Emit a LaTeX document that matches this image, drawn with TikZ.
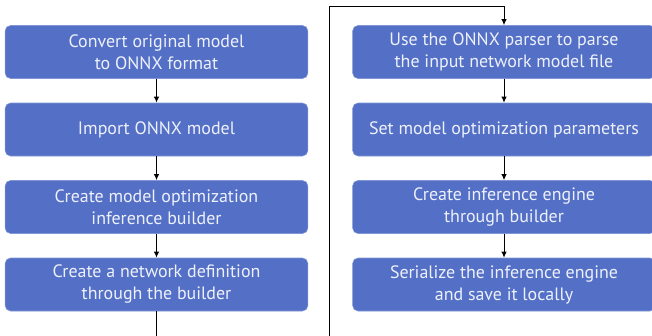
\documentclass[tikz,border=0pt]{standalone}
\usepackage{fontspec}
\setmainfont{PT Sans}
\usetikzlibrary{arrows.meta}
\definecolor{boxblue}{HTML}{5470C6}
\definecolor{boxedge}{HTML}{8096D6}
\definecolor{boxtext}{HTML}{EEF1FB}

\begin{document}
\begin{tikzpicture}[x=0.75pt,y=-0.75pt,
    stepbox/.style={draw=boxedge, line width=0.4pt, fill=boxblue, rounded corners=4pt,
      minimum width=227pt, minimum height=39.75pt, inner sep=0pt,
      text=boxtext, align=center, font=\fontsize{13.45}{16.5}\selectfont},
    flow/.style={line width=0.75pt, -{Latex[length=4.5pt,width=4pt]}}]
    \useasboundingbox (0,0) rectangle (652,335);
    \clip (0,0) rectangle (652,335);

    % Left column
    \node[stepbox] (convert) at (156.5,52) {Convert original model\\to ONNX format};
    \node[stepbox] (import) at (156.5,129.5) {Import ONNX model};
    \node[stepbox] (builder) at (156.5,207) {Create model optimization\\inference builder};
    \node[stepbox] (netdef) at (156.5,284.5) {Create a network definition\\through the builder};

    % Right column
    \node[stepbox] (parse) at (504,52) {Use the ONNX parser to parse\\the input network model file};
    \node[stepbox] (params) at (504,129.5) {Set model optimization parameters};
    \node[stepbox] (engine) at (504,207) {Create inference engine\\through builder};
    \node[stepbox] (serial) at (504,284.5) {Serialize the inference engine\\and save it locally};

    % Arrows
    \draw[flow] (convert) -- (import);
    \draw[flow] (import) -- (builder);
    \draw[flow] (builder) -- (netdef);
    \draw[flow] (parse) -- (params);
    \draw[flow] (params) -- (engine);
    \draw[flow] (engine) -- (serial);

    % Link between the columns
    \coordinate (turnlow) at (329,345);
    \coordinate (turnhigh) at (329,7);
    \draw[flow] (netdef.south) |- (turnlow) -- (turnhigh) -| (parse.north);

\end{tikzpicture}
\end{document}
